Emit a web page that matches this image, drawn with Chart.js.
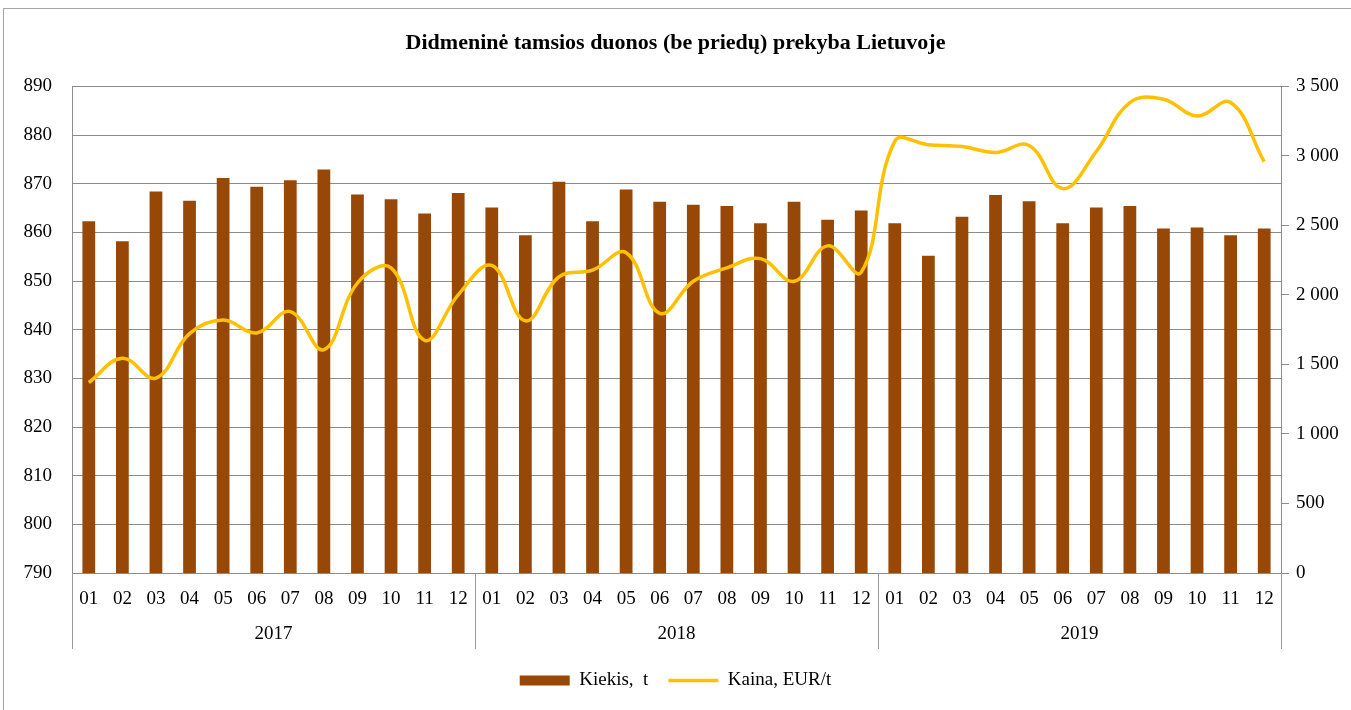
<!DOCTYPE html>
<html>
<head>
<meta charset="utf-8">
<script src="https://cdn.jsdelivr.net/npm/chart.js@4/dist/chart.umd.min.js"></script>
<style>
  html, body { margin: 0; padding: 0; background: #fff; overflow: hidden; }
  #frame { position: absolute; left: 3px; top: 8px; width: 1400px; height: 800px; border: 1px solid #a6a6a6; }
  #wrap { position: absolute; left: 0; top: 0; width: 1351px; height: 710px; }
</style>
</head>
<body>
<div id="frame"></div>
<div id="wrap"><canvas id="c" width="1351" height="710"></canvas></div>
<script>
const chartTitle = 'Didmeninė tamsios duonos (be priedų) prekyba Lietuvoje';
const years = ['2017', '2018', '2019'];
const months = ['01','02','03','04','05','06','07','08','09','10','11','12'];
const categories = years.flatMap(() => months);

const kiekis = [
  862.3, 858.2, 868.4, 866.5, 871.2, 869.4, 870.7, 872.9, 867.8, 866.8, 863.9, 868.1,
  865.1, 859.4, 870.4, 862.3, 868.8, 866.3, 865.7, 865.4, 861.9, 866.3, 862.6, 864.5,
  861.9, 855.2, 863.2, 867.7, 866.4, 861.9, 865.1, 865.4, 860.8, 861.0, 859.4, 860.8
];
const kaina = [
  1370, 1545, 1402, 1722, 1819, 1727, 1880, 1606, 2086, 2195, 1674, 2001,
  2212, 1814, 2130, 2178, 2304, 1868, 2098, 2195, 2261, 2098, 2353, 2163,
  3105, 3080, 3068, 3025, 3075, 2765, 3032, 3384, 3408, 3287, 3384, 2959
];
const leftTicks = { min: 790, max: 890, step: 10 };
const rightTicks = { min: 0, max: 3500, step: 500 };

const FONT = 'Liberation Serif';
const FS = 19;
const GRID = '#8c8c8c';

const yearSeparators = {
  id: 'yearSeparators',
  afterDraw(chart) {
    const x = chart.scales.x, x2 = chart.scales.x2, ca = chart.chartArea;
    const ctx = chart.ctx;
    const xs = [ca.left, ca.right];
    for (let i = months.length; i < categories.length; i += months.length) {
      xs.push((x.getPixelForValue(i - 1) + x.getPixelForValue(i)) / 2);
    }
    ctx.save();
    ctx.strokeStyle = '#999';
    ctx.lineWidth = 1;
    xs.forEach(px => {
      const p = Math.round(px) + 0.5;
      ctx.beginPath();
      ctx.moveTo(p, ca.bottom);
      ctx.lineTo(p, x2.bottom - 2);
      ctx.stroke();
    });
    ctx.restore();
  }
};

new Chart(document.getElementById('c'), {
  type: 'bar',
  data: {
    labels: categories,
    datasets: [
      {
        type: 'line',
        label: 'Kaina, EUR/t',
        data: kaina,
        yAxisID: 'y2',
        borderColor: '#FFC000',
        backgroundColor: '#FFC000',
        borderWidth: 3.5,
        tension: 0.4,
        pointRadius: 0,
        pointStyle: 'line',
        order: 0
      },
      {
        type: 'bar',
        label: 'Kiekis,  t',
        data: kiekis,
        yAxisID: 'y',
        backgroundColor: '#974806',
        borderWidth: 0,
        categoryPercentage: 1,
        barPercentage: 0.38,
        pointStyle: 'rect',
        order: 1
      }
    ]
  },
  options: {
    responsive: false,
    animation: false,
    layout: { padding: { left: 0, right: 0, top: 0, bottom: 10 } },
    plugins: {
      tooltip: { enabled: false },
      title: {
        display: true,
        text: chartTitle,
        color: '#000',
        font: { family: FONT, size: 22, weight: 'bold' },
        padding: { top: 30, bottom: 30 }
      },
      legend: {
        position: 'bottom',
        reverse: true,
        labels: {
          color: '#000',
          font: { family: FONT, size: FS },
          usePointStyle: true,
          pointStyleWidth: 50,
          boxHeight: 10,
          padding: 20
        }
      }
    },
    scales: {
      x: {
        type: 'category',
        position: 'bottom',
        weight: 0,
        offset: true,
        grid: { display: false, drawTicks: false },
        border: { display: true, color: GRID },
        ticks: { color: '#000', font: { family: FONT, size: FS }, padding: 15, maxRotation: 0, autoSkip: false },
        afterFit(s) { s.height = 38; }
      },
      x2: {
        type: 'category',
        position: 'bottom',
        weight: 1,
        labels: years,
        offset: true,
        grid: { display: false, drawTicks: false },
        border: { display: false },
        ticks: { color: '#000', font: { family: FONT, size: FS }, padding: 12, maxRotation: 0 },
        afterFit(s) { s.height = 40; }
      },
      y: {
        position: 'left',
        min: leftTicks.min,
        max: leftTicks.max,
        grid: { color: GRID, drawTicks: false },
        border: { display: true, color: GRID },
        ticks: { stepSize: leftTicks.step, color: '#000', font: { family: FONT, size: FS }, padding: 20 },
        afterFit(s) { s.width = 72; }
      },
      y2: {
        position: 'right',
        min: rightTicks.min,
        max: rightTicks.max,
        grid: { drawOnChartArea: false, color: GRID, tickLength: 8 },
        border: { display: true, color: GRID },
        ticks: {
          stepSize: rightTicks.step, color: '#000', font: { family: FONT, size: FS }, padding: 7,
          callback: v => String(v).replace(/\B(?=(\d{3})+(?!\d))/g, ' ')
        },
        afterFit(s) { s.width = 70; }
      }
    }
  },
  plugins: [yearSeparators]
});
</script>
</body>
</html>
